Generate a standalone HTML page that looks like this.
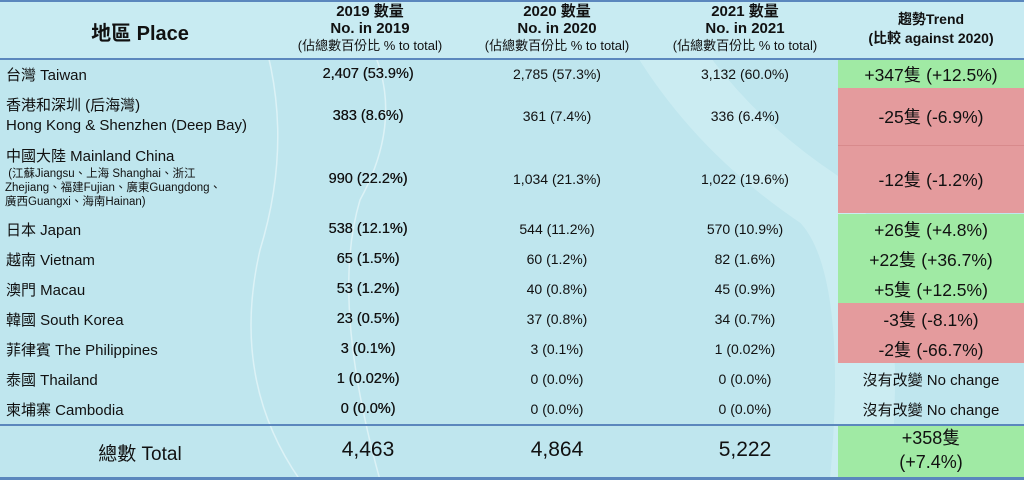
<!DOCTYPE html>
<html><head><meta charset="utf-8"><style>
body{margin:0;width:1024px;height:480px;overflow:hidden;background:#bfe6ee;font-family:"Liberation Sans","Noto Sans CJK TC",sans-serif;color:#111;position:relative}
.a{position:absolute;white-space:nowrap}
.c{text-align:center}
.hd{position:absolute;left:0;top:0;width:1024px;height:58px;background:#c8ebf2;border-top:2px solid #5b87bd}
.ln{position:absolute;left:0;width:1024px;height:2px;background:#5b87bd}
.g{position:absolute;left:838px;width:186px;background:#a0eaa4}
.r{position:absolute;left:838px;width:186px;background:#e49b9d}
.p{position:absolute;left:6px;font-size:15px;white-space:nowrap}
.n{position:absolute;width:180px;text-align:center;font-size:14px;white-space:nowrap}
.b{font-size:14.5px;text-shadow:0.3px 0 0 #111}
.tr{position:absolute;left:838px;width:186px;text-align:center;font-size:17.5px;white-space:nowrap}
</style></head><body>
<svg class="a" style="left:0;top:0" width="1024" height="480">
<path d="M640 0 Q700 120 820 200 Q880 260 860 480" stroke="#d4f0f5" stroke-width="60" fill="none" opacity="0.6"/>
<path d="M250 0 Q300 120 260 250 Q230 380 300 480" stroke="#dcf2f6" stroke-width="1.5" fill="none"/>
<path d="M340 0 Q420 90 360 200 Q330 300 380 480" stroke="#dcf2f6" stroke-width="1.5" fill="none"/>
</svg>
<div class="hd"></div>
<div class="ln" style="top:58px"></div>
<div class="ln" style="top:424px"></div>
<div class="ln" style="top:477px;height:3px"></div>
<div class="a c" style="left:40px;top:17px;width:200px;font-size:20px;font-weight:bold">地區 Place</div>
<div class="a c" style="left:270px;top:3px;width:200px;font-size:15px;line-height:17px"><b>2019 數量<br>No. in 2019</b><br><span style="font-size:13px">(佔總數百份比 % to total)</span></div>
<div class="a c" style="left:457px;top:3px;width:200px;font-size:15px;line-height:17px"><b>2020 數量<br>No. in 2020</b><br><span style="font-size:13px">(佔總數百份比 % to total)</span></div>
<div class="a c" style="left:645px;top:3px;width:200px;font-size:15px;line-height:17px"><b>2021 數量<br>No. in 2021</b><br><span style="font-size:13px">(佔總數百份比 % to total)</span></div>
<div class="a c" style="left:838px;top:10px;width:186px;font-size:14px;line-height:19px"><b>趨勢Trend<br>(比較 against 2020)</b></div>

<div class="g" style="top:60px;height:28px"></div>
<div class="r" style="top:88px;height:125px"></div>
<div class="r" style="top:145px;height:1px;background:#d88a8c"></div>
<div class="g" style="top:214px;height:89px"></div>
<div class="r" style="top:303px;height:60px"></div>
<div class="g" style="top:426px;height:51px"></div>

<div class="p" style="top:64px">台灣 Taiwan</div>
<div class="p" style="top:96px;line-height:20px">香港和深圳 (后海灣)<br>Hong Kong &amp; Shenzhen (Deep Bay)</div>
<div class="p" style="top:147px;line-height:20px">中國大陸 Mainland China</div>
<div class="p" style="top:167px;font-size:11.5px;line-height:14px;left:5px">&nbsp;(江蘇Jiangsu、上海 Shanghai、浙江<br>Zhejiang、福建Fujian、廣東Guangdong、<br>廣西Guangxi、海南Hainan)</div>
<div class="p" style="top:219px">日本 Japan</div>
<div class="p" style="top:249px">越南 Vietnam</div>
<div class="p" style="top:279px">澳門 Macau</div>
<div class="p" style="top:309px">韓國 South Korea</div>
<div class="p" style="top:339px">菲律賓 The Philippines</div>
<div class="p" style="top:369px">泰國 Thailand</div>
<div class="p" style="top:399px">柬埔寨 Cambodia</div>
<div class="a c" style="left:40px;top:439px;width:200px;font-size:19px">總數 Total</div>

<div class="n b" style="left:278px;top:66px">2,407 (53.9%)</div>
<div class="n" style="left:467px;top:66px">2,785 (57.3%)</div>
<div class="n" style="left:655px;top:66px">3,132 (60.0%)</div>
<div class="n b" style="left:278px;top:108px">383 (8.6%)</div>
<div class="n" style="left:467px;top:108px">361 (7.4%)</div>
<div class="n" style="left:655px;top:108px">336 (6.4%)</div>
<div class="n b" style="left:278px;top:171px">990 (22.2%)</div>
<div class="n" style="left:467px;top:171px">1,034 (21.3%)</div>
<div class="n" style="left:655px;top:171px">1,022 (19.6%)</div>
<div class="n b" style="left:278px;top:221px">538 (12.1%)</div>
<div class="n" style="left:467px;top:221px">544 (11.2%)</div>
<div class="n" style="left:655px;top:221px">570 (10.9%)</div>
<div class="n b" style="left:278px;top:251px">65 (1.5%)</div>
<div class="n" style="left:467px;top:251px">60 (1.2%)</div>
<div class="n" style="left:655px;top:251px">82 (1.6%)</div>
<div class="n b" style="left:278px;top:281px">53 (1.2%)</div>
<div class="n" style="left:467px;top:281px">40 (0.8%)</div>
<div class="n" style="left:655px;top:281px">45 (0.9%)</div>
<div class="n b" style="left:278px;top:311px">23 (0.5%)</div>
<div class="n" style="left:467px;top:311px">37 (0.8%)</div>
<div class="n" style="left:655px;top:311px">34 (0.7%)</div>
<div class="n b" style="left:278px;top:341px">3 (0.1%)</div>
<div class="n" style="left:467px;top:341px">3 (0.1%)</div>
<div class="n" style="left:655px;top:341px">1 (0.02%)</div>
<div class="n b" style="left:278px;top:371px">1 (0.02%)</div>
<div class="n" style="left:467px;top:371px">0 (0.0%)</div>
<div class="n" style="left:655px;top:371px">0 (0.0%)</div>
<div class="n b" style="left:278px;top:401px">0 (0.0%)</div>
<div class="n" style="left:467px;top:401px">0 (0.0%)</div>
<div class="n" style="left:655px;top:401px">0 (0.0%)</div>
<div class="n" style="left:278px;top:438px;font-size:21px">4,463</div>
<div class="n" style="left:467px;top:438px;font-size:21px">4,864</div>
<div class="n" style="left:655px;top:438px;font-size:21px">5,222</div>

<div class="tr" style="top:62px">+347隻 (+12.5%)</div>
<div class="tr" style="top:104px">-25隻 (-6.9%)</div>
<div class="tr" style="top:167px">-12隻 (-1.2%)</div>
<div class="tr" style="top:217px">+26隻 (+4.8%)</div>
<div class="tr" style="top:247px">+22隻 (+36.7%)</div>
<div class="tr" style="top:277px">+5隻 (+12.5%)</div>
<div class="tr" style="top:307px">-3隻 (-8.1%)</div>
<div class="tr" style="top:337px">-2隻 (-66.7%)</div>
<div class="tr" style="top:369px;font-size:15px">沒有改變 No change</div>
<div class="tr" style="top:399px;font-size:15px">沒有改變 No change</div>
<div class="tr" style="top:426px;font-size:18px;line-height:24px">+358隻<br>(+7.4%)</div>
</body></html>
